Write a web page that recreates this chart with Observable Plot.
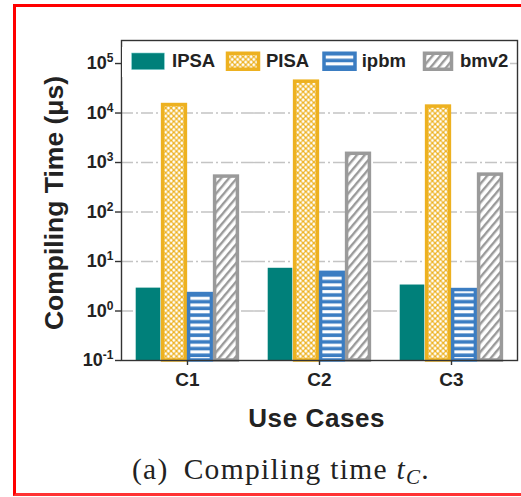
<!DOCTYPE html>
<html><head><meta charset="utf-8">
<script src="https://cdn.jsdelivr.net/npm/d3@7"></script>
<script src="https://cdn.jsdelivr.net/npm/@observablehq/plot@0.6"></script>
<style>
html,body{margin:0;background:#fff;overflow:hidden;}
#wrap{position:relative;width:521px;height:497px;overflow:hidden;background:#fff;}
#border{position:absolute;left:13px;top:4px;width:1000px;height:486px;border-left:3px solid #f00;border-top:3px solid #f00;border-bottom:3px solid #f33;}
#plot{position:absolute;left:0;top:0;}
#overlay{position:absolute;left:0;top:0;}
</style></head>
<body>
<div id="wrap">
<div id="border"></div>
<div id="plot"></div>
<svg id="overlay" width="521" height="497" xmlns="http://www.w3.org/2000/svg">
  <defs>
    <pattern id="patPISA" patternUnits="userSpaceOnUse" width="5.4" height="5.4">
      <rect width="5.4" height="5.4" fill="#EDB120"/>
      <circle cx="0" cy="0" r="1.5" fill="#fff"/><circle cx="5.4" cy="0" r="1.5" fill="#fff"/>
      <circle cx="0" cy="5.4" r="1.5" fill="#fff"/><circle cx="5.4" cy="5.4" r="1.5" fill="#fff"/>
      <circle cx="2.7" cy="2.7" r="1.5" fill="#fff"/>
    </pattern>
    <pattern id="patIPBM" patternUnits="userSpaceOnUse" width="10" height="6.7">
      <rect width="10" height="6.7" fill="#3B7DC2"/>
      <rect y="2" width="10" height="3.1" fill="#fff"/>
    </pattern>
    <pattern id="patBMV2" patternUnits="userSpaceOnUse" width="6" height="6" patternTransform="rotate(40)">
      <rect width="6" height="6" fill="#fff"/>
      <rect width="2.4" height="6" fill="#9a9a9a"/>
    </pattern>
  </defs>
  <g id="legend"></g>
  <g id="labels"></g>
</svg>
</div>
<script>
// ---- data ----
const cases = ["C1", "C2", "C3"];
const seriesNames = ["IPSA", "PISA", "ipbm", "bmv2"];
const ipsaValues = [2.9, 7.3, 3.35];
const pisaValues = [14500, 43000, 13500];
const ipbmValues = [2.2, 5.9, 2.65];
const bmv2Values = [520, 1500, 570];
const yTicks = [0.1, 1, 10, 100, 1000, 10000, 100000];
const gridTicks = [1, 10, 100, 1000, 10000, 100000];

const valueLists = [ipsaValues, pisaValues, ipbmValues, bmv2Values];
const rows = cases.flatMap((c, i) => seriesNames.map((s, j) => ({case: c, series: s, value: valueLists[j][i]})));

const styles = {
  IPSA: {fill: "#00807A", stroke: "none", strokeWidth: 0, inset: 0.7},
  PISA: {fill: "url(#patPISA)", stroke: "#EDB120", strokeWidth: 3.5, inset: 1.6},
  ipbm: {fill: "url(#patIPBM)", stroke: "#3B7DC2", strokeWidth: 3.5, inset: 1.6},
  bmv2: {fill: "url(#patBMV2)", stroke: "#9a9a9a", strokeWidth: 3.5, inset: 1.6}
};

const barMarks = seriesNames.map(s => Plot.barY(rows.filter(d => d.series === s), {
  fx: "case", x: "series", y1: 0.1, y2: "value",
  fill: styles[s].fill, stroke: styles[s].stroke, strokeWidth: styles[s].strokeWidth,
  insetLeft: styles[s].inset, insetRight: styles[s].inset
}));

const chart = Plot.plot({
  width: 521, height: 400,
  marginTop: 40, marginBottom: 40, marginLeft: 120, marginRight: 3,
  style: {fontFamily: "'Liberation Sans', Arial, sans-serif", fontWeight: "bold", color: "#222", background: "transparent", overflow: "visible"},
  fx: {domain: cases, padding: 0, label: null},
  x: {domain: seriesNames, paddingInner: 0, paddingOuter: 0.52, axis: null},
  y: {type: "log", domain: [0.1, 2.92e5], label: null},
  marks: [
    Plot.gridY(gridTicks, {stroke: "#c4c4c4", strokeOpacity: 1, strokeWidth: 1.4, strokeDasharray: "12,3,2,3"}),
    ...barMarks,
    Plot.frame({facet: "super", stroke: "#333", strokeWidth: 1.4}),
    Plot.axisY(yTicks, {tickSize: 6, tickPadding: 2, fontSize: 18, stroke: "#333", strokeWidth: 1.4,
      tickFormat: d => "10^" + Math.round(Math.log10(d)), label: null}),
    Plot.axisFx({anchor: "bottom", tickSize: 5, tickPadding: 7, fontSize: 19, stroke: "#333", strokeWidth: 1.4, label: null})
  ]
});
document.getElementById("plot").appendChild(chart);

const ns = "http://www.w3.org/2000/svg";
chart.querySelectorAll('g[aria-label="y-axis tick label"] text').forEach(t => {
  const [b, e] = t.textContent.split("^");
  t.textContent = "";
  const t1 = document.createElementNS(ns, "tspan"); t1.textContent = b;
  const t2 = document.createElementNS(ns, "tspan"); t2.textContent = e;
  t2.setAttribute("dy", "-7"); t2.setAttribute("font-size", "12");
  t.append(t1, t2);
});

function el(tag, attrs, parent, text) {
  const n = document.createElementNS(ns, tag);
  for (const k in attrs) n.setAttribute(k, attrs[k]);
  if (text != null) n.textContent = text;
  parent.appendChild(n);
  return n;
}

// legend
const lg = document.getElementById("legend");
el("rect", {x: 122, y: 47, width: 388, height: 30, fill: "#fff"}, lg);
const legendItems = [
  {s: "IPSA", sx: 131.7, sw: 32.6, tx: 172},
  {s: "PISA", sx: 227.5, sw: 31, tx: 266},
  {s: "ipbm", sx: 324, sw: 31, tx: 361.7},
  {s: "bmv2", sx: 424.5, sw: 27, tx: 460}
];
legendItems.forEach(it => {
  const st = styles[it.s];
  const sw = st.strokeWidth;
  el("rect", {x: it.sx, y: 53 + sw / 2 - (sw ? 1.5 : 0), width: it.sw, height: sw ? 16 : 16.6,
    fill: st.fill, stroke: st.stroke === "none" ? "#7cc" : st.stroke, "stroke-width": sw || 0.6}, lg);
  el("text", {x: it.tx, y: 67, "font-family": "'Liberation Sans', Arial, sans-serif", "font-weight": "bold",
    "font-size": 18.5, fill: "#222"}, lg, it.s);
});

// axis titles and caption
const lb = document.getElementById("labels");
el("text", {transform: "translate(63,203) rotate(-90)", "text-anchor": "middle", "font-family": "'Liberation Sans', Arial, sans-serif",
  "font-weight": "bold", "font-size": 26.5, fill: "#222"}, lb, "Compiling Time (μs)");
el("text", {x: 316.7, y: 427, "text-anchor": "middle", "font-family": "'Liberation Sans', Arial, sans-serif",
  "font-weight": "bold", "font-size": 26, "letter-spacing": 0.6, fill: "#222"}, lb, "Use Cases");
const cap = el("text", {x: 281, y: 479, "text-anchor": "middle", "font-family": "'Liberation Serif', 'Times New Roman', serif",
  "font-size": 29.5, "letter-spacing": 1.3, fill: "#222"}, lb);
el("tspan", {}, cap, "(a)");
el("tspan", {dx: 15}, cap, "Compiling time ");
el("tspan", {"font-style": "italic"}, cap, "t");
el("tspan", {"font-style": "italic", "font-size": 21, dy: 5}, cap, "C");
el("tspan", {dy: -5}, cap, ".");
</script>
</body></html>
